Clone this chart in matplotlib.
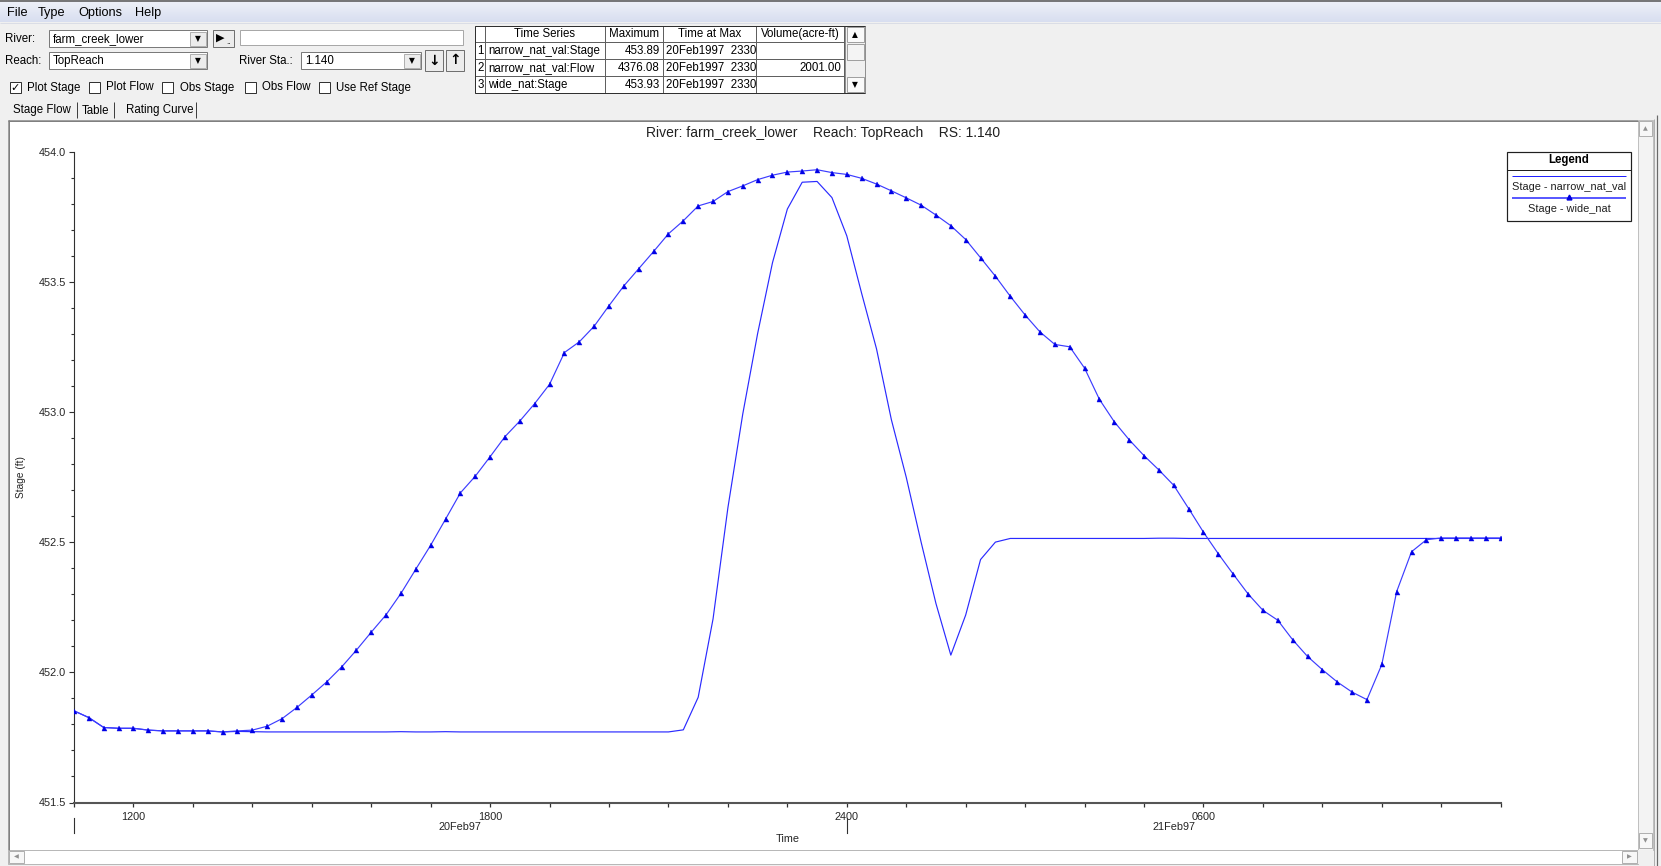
import matplotlib
matplotlib.use('Agg')
import matplotlib.pyplot as plt
import numpy as np
from matplotlib.patches import Rectangle
import matplotlib.transforms as mtransforms
from matplotlib.ticker import FixedLocator, MultipleLocator, FormatStrFormatter

plt.rcParams['font.family'] = ['Liberation Sans', 'DejaVu Sans']

W, H = 1661, 866

# ---------------- data (15-minute stages, 20Feb97 1100 -> 21Feb97 1100) ----------------
start_hour = 11.0
step_hours = 0.25

wide_nat = [
    451.852, 451.826, 451.788, 451.785,   # 11
    451.785, 451.778, 451.775, 451.775,   # 12
    451.775, 451.775, 451.771, 451.775,   # 13
    451.778, 451.793, 451.822, 451.865,   # 14
    451.913, 451.963, 452.020, 452.085,   # 15
    452.154, 452.221, 452.303, 452.396,   # 16
    452.488, 452.588, 452.689, 452.753,   # 17
    452.828, 452.905, 452.965, 453.032,   # 18
    453.106, 453.228, 453.269, 453.329,   # 19
    453.408, 453.484, 453.550, 453.616,   # 20
    453.684, 453.734, 453.791, 453.808,   # 21
    453.846, 453.868, 453.892, 453.909,   # 22
    453.921, 453.925, 453.930, 453.919,   # 23
    453.912, 453.897, 453.875, 453.849,   # 00
    453.822, 453.794, 453.756, 453.715,   # 01
    453.662, 453.592, 453.521, 453.444,   # 02
    453.372, 453.307, 453.259, 453.250,   # 03
    453.168, 453.048, 452.962, 452.893,   # 04
    452.832, 452.777, 452.718, 452.629,   # 05
    452.538, 452.455, 452.377, 452.301,   # 06
    452.238, 452.200, 452.125, 452.061,   # 07
    452.010, 451.963, 451.924, 451.895,   # 08
    452.030, 452.310, 452.463, 452.509,   # 09
    452.516, 452.516, 452.516, 452.516,   # 10
    452.516,                              # 11
]

narrow_nat_val = [
    451.852, 451.826, 451.788, 451.785,   # 11
    451.785, 451.778, 451.775, 451.775,   # 12
    451.775, 451.775, 451.771, 451.773,   # 13
    451.772, 451.771, 451.771, 451.771,   # 14
    451.771, 451.771, 451.771, 451.771,   # 15
    451.771, 451.771, 451.772, 451.771,   # 16
    451.771, 451.772, 451.771, 451.771,   # 17
    451.771, 451.771, 451.771, 451.771,   # 18
    451.771, 451.771, 451.771, 451.771,   # 19
    451.771, 451.771, 451.771, 451.771,   # 20
    451.771, 451.779, 451.904, 452.205,   # 21
    452.632, 452.992, 453.301, 453.573,   # 22
    453.779, 453.882, 453.885, 453.823,   # 23
    453.676, 453.455, 453.242, 452.970,   # 00
    452.749, 452.500, 452.264, 452.066,   # 01
    452.220, 452.433, 452.500, 452.514,   # 02
    452.514, 452.514, 452.514, 452.514,   # 03
    452.514, 452.514, 452.514, 452.514,   # 04
    452.514, 452.515, 452.515, 452.514,   # 05
    452.514, 452.514, 452.514, 452.514,   # 06
    452.514, 452.514, 452.514, 452.514,   # 07
    452.514, 452.514, 452.514, 452.514,   # 08
    452.514, 452.514, 452.514, 452.514,   # 09
    452.514, 452.514, 452.514, 452.514,   # 10
    452.514,                              # 11
]

x_limits = [11, 35]
y_limits = [451.5, 454.0]
major_tick_hours = [12, 18, 24, 30]
major_tick_labels = ['1200', '1800', '2400', '0600']
day_labels = ['20Feb97', '21Feb97']
day_label_hours = [17.5, 29.5]
day_boundary_hours = [11, 24]

series_names = ['Stage - narrow_nat_val', 'Stage - wide_nat']
chart_title = 'River: farm_creek_lower    Reach: TopReach    RS: 1.140'

table_header = ['Time Series', 'Maximum', 'Time at Max', 'Volume(acre-ft)']
table_series = ['narrow_nat_val:Stage', 'narrow_nat_val:Flow', 'wide_nat:Stage']
table_max = ['453.89', '4376.08', '453.93']
table_time = ['20Feb1997  2330', '20Feb1997  2330', '20Feb1997  2330']
table_volume = ['', '2001.00', '']

menu_items = ['File', 'Type', 'Options', 'Help']
check_labels = ['Plot Stage', 'Plot Flow', 'Obs Stage', 'Obs Flow', 'Use Ref Stage']
check_states = [True, False, False, False, False]
tab_labels = ['Stage Flow', 'Table', 'Rating Curve']

hours = start_hour + step_hours * np.arange(len(wide_nat))

# ---------------- figure & UI layer (pixel coordinates) ----------------
fig = plt.figure(figsize=(W / 100, H / 100), dpi=100, facecolor='#f0f0f0')
ui = fig.add_axes([0, 0, 1, 1], zorder=0)
ui.set_xlim(0, W)
ui.set_ylim(H, 0)
ui.axis('off')

PX = 0.72  # one pixel in points


def rect(x0, y0, x1, y1, fc, ec='none', lw=1.0, z=1):
    ui.add_patch(Rectangle((x0, y0), x1 - x0, y1 - y0, facecolor=fc,
                           edgecolor=ec, linewidth=lw * PX, zorder=z))


def line(xs, ys, color='#808080', lw=1.0, z=2):
    ui.plot(xs, ys, color=color, linewidth=lw * PX, zorder=z, solid_capstyle='butt')


def txt(x, y, s, size=8.3, ha='left', va='center', color='black', z=3, **kw):
    ui.text(x, y, s, fontsize=size, ha=ha, va=va, color=color, zorder=z, **kw)


# menu bar gradient
grad = np.linspace(0, 1, 50).reshape(-1, 1)
ui.imshow(grad, extent=[0, W, 22, 1], cmap=matplotlib.colors.LinearSegmentedColormap.from_list(
    'mb', ['#eef1f8', '#d8def0']), aspect='auto', zorder=0.5)
ui.set_xlim(0, W)
ui.set_ylim(H, 0)
line([0, W], [0.6, 0.6], color='#505050', lw=1.5)
line([0, W], [22.5, 22.5], color='#dadde6', lw=1)
menu_x = [7, 38, 78, 135]
for mx, item in zip(menu_x, menu_items):
    txt(mx, 13, item, size=9.2)

# River / Reach combos
txt(5, 39, 'River:', size=8.3)
txt(5, 61, 'Reach:', size=8.3)


def combo(x0, y0, x1, y1, value):
    rect(x0, y0, x1, y1, 'white', ec='#7a7a7a', lw=1)
    rect(x1 - 17, y0 + 1.5, x1 - 1.5, y1 - 1.5, '#ececec', ec='#b0b0b0', lw=1, z=1.5)
    txt(x1 - 9.3, (y0 + y1) / 2 + 0.5, '\u25bc', size=5.5, ha='center',
        family=['DejaVu Sans'])
    txt(x0 + 4, (y0 + y1) / 2 + 0.5, value, size=8.3)


combo(49, 30, 207, 47, 'farm_creek_lower')
combo(49, 52, 207, 69, 'TopReach')
combo(301, 52, 421, 69, '1.140')
txt(239, 61, 'River Sta.:', size=8.3)

# play button + text field
rect(213, 30, 234, 47, '#ececec', ec='#707070', lw=1)
txt(220, 38, '\u25b6', size=8, ha='center', family=['DejaVu Sans'])
txt(229, 42, '..', size=6, ha='center')
rect(240, 30, 463, 45, 'white', ec='#a8a8a8', lw=1)

# arrow buttons
for bx, arrow in zip([425, 446], ['\u2193', '\u2191']):
    rect(bx, 50, bx + 18, 71, '#ececec', ec='#707070', lw=1)
    txt(bx + 9, 60.5, arrow, size=10, ha='center', weight='bold',
        family=['DejaVu Sans'])

# checkboxes
box_x = [9.5, 89, 162, 245, 319]
for bx, lab, st in zip(box_x, check_labels, check_states):
    rect(bx, 81.5, bx + 11, 92.5, 'white', ec='#333333', lw=1)
    if st:
        txt(bx + 5.5, 87.5, '\u2713', size=8, ha='center', weight='bold',
            family=['DejaVu Sans'])
    txt(bx + 17.5, 87.5, lab, size=8.3)

# tabs
tab_x = [13, 82, 126]
sep_x = [77, 114, 196]
for tx, lab in zip(tab_x, tab_labels):
    txt(tx, 110.5, lab, size=8.3)
for sx in sep_x:
    line([sx, sx], [102, 118], color='#404040', lw=1)

# results table
col_x = [474.5, 485, 605, 663, 756, 844]
row_y = [25.5, 42, 59, 76, 93]
rect(474.5, 25.5, 844, 93, 'white', ec='none')
for cx in col_x:
    line([cx, cx], [row_y[0], row_y[-1]], color='#606060', lw=1)
for ry in row_y:
    line([col_x[0], col_x[-1]], [ry, ry], color='#606060', lw=1)
header_centers = [(col_x[i + 1] + col_x[i + 2]) / 2 for i in range(4)]
for hc, h in zip(header_centers, table_header):
    txt(hc, 34, h, size=8.3, ha='center')
for i in range(3):
    yc = (row_y[i + 1] + row_y[i + 2]) / 2 + 0.5
    txt(477.5, yc, str(i + 1), size=8.3)
    txt(488, yc, table_series[i], size=8.3)
    txt(660, yc, table_max[i], size=8.3, ha='right')
    txt(666, yc, table_time[i], size=8.3)
    txt(841, yc, table_volume[i], size=8.3, ha='right')
# table scrollbar
rect(845, 25.5, 865, 93, '#f0f0f0', ec='#909090', lw=1)
rect(846.5, 27, 863.5, 42, '#fafafa', ec='#a0a0a0', lw=1, z=1.5)
txt(855, 34.5, '\u25b2', size=5.5, ha='center', family=['DejaVu Sans'])
rect(846.5, 43.5, 863.5, 60, '#f4f4f4', ec='#a0a0a0', lw=1, z=1.5)
rect(846.5, 76.5, 863.5, 92, '#fafafa', ec='#a0a0a0', lw=1, z=1.5)
txt(855, 84.5, '\u25bc', size=5.5, ha='center', family=['DejaVu Sans'])
line([474.5, 865], [25.5, 25.5], color='#303030', lw=1)
line([474.5, 865], [93, 93], color='#303030', lw=1)
line([474.5, 474.5], [25.5, 93], color='#303030', lw=1)

# chart panel and scrollbars
rect(8, 119.5, 1638, 850, 'white', ec='#a0a0a0', lw=1)
line([8, 1638], [120.5, 120.5], color='#808080', lw=1)
line([8.5, 8.5], [120, 850], color='#808080', lw=1)
rect(1638, 119.5, 1653, 850, '#f3f3f3', ec='#c0c0c0', lw=1)
rect(1639, 121, 1652, 136, '#f7f7f7', ec='#b0b0b0', lw=1, z=1.5)
txt(1645.5, 128.5, '\u25b2', size=4.5, ha='center', color='#909090', family=['DejaVu Sans'])
rect(1639, 833, 1652, 848, '#f7f7f7', ec='#b0b0b0', lw=1, z=1.5)
txt(1645.5, 840.5, '\u25bc', size=4.5, ha='center', color='#909090', family=['DejaVu Sans'])
rect(8, 850, 1638, 864, 'white', ec='#b8b8b8', lw=1)
rect(9, 851, 24, 863, '#f7f7f7', ec='#b0b0b0', lw=1, z=1.5)
txt(16.5, 857, '\u25c0', size=4.5, ha='center', color='#909090', family=['DejaVu Sans'])
rect(1622, 851, 1637, 863, '#f7f7f7', ec='#b0b0b0', lw=1, z=1.5)
txt(1629.5, 857, '\u25b6', size=4.5, ha='center', color='#909090', family=['DejaVu Sans'])
rect(1638, 850, 1653, 864, '#f0f0f0', ec='none')
line([1657, 1657], [115, 866], color='#6a6a6a', lw=1.2)
line([1653.5, 1653.5], [119, 866], color='#b0b0b0', lw=1)

# chart title
txt(823, 132.5, chart_title, size=10, ha='center', color='#202020')

# legend (custom HEC-RAS style box)
lx0, lx1, ly0, ly1 = 1507, 1631, 151.5, 220.5
lxc = (lx0 + lx1) / 2
rect(lx0, ly0, lx1, ly1, 'white', ec='#202020', lw=1.2, z=5)
txt(lxc, 159.5, 'Legend', size=8.3, ha='center', weight='bold', z=6)
line([lx0, lx1], [169.5, 169.5], color='#202020', lw=1, z=6)
line([1512, 1626], [175.5, 175.5], color='#2020ff', lw=1, z=6)
txt(lxc, 186.5, series_names[0], size=7.9, ha='center', color='#202020', z=6)
line([1512, 1626], [197.5, 197.5], color='#5a5aff', lw=2, z=6)
ui.plot([lxc], [196.5], marker='^', ms=3.5, color='#0000dd', zorder=7)
txt(lxc, 209, series_names[1], size=7.9, ha='center', color='#202020', z=6)

# ---------------- chart axes ----------------
ax_left, ax_right, ax_top, ax_bottom = 74, 1500.7, 151.5, 802.5
ax = fig.add_axes([ax_left / W, 1 - ax_bottom / H, (ax_right - ax_left) / W,
                   (ax_bottom - ax_top) / H], zorder=2)
ax.set_facecolor('none')
ax.plot(hours, narrow_nat_val, color='#2a2aff', lw=0.85, zorder=3)
ax.plot(hours, wide_nat, color='#3c3cff', lw=0.85, marker='^', ms=3.6,
        mfc='#0000e6', mec='#0000e6', mew=0.3, zorder=4)
ax.set_xlim(*x_limits)
ax.set_ylim(*y_limits)

for s in ['top', 'right']:
    ax.spines[s].set_visible(False)
ax.spines['left'].set_color('#303030')
ax.spines['left'].set_linewidth(0.8)
ax.spines['bottom'].set_color('#555555')
ax.spines['bottom'].set_linewidth(1.5)

ax.yaxis.set_major_locator(MultipleLocator(0.5))
ax.yaxis.set_minor_locator(MultipleLocator(0.1))
ax.yaxis.set_major_formatter(FormatStrFormatter('%.1f'))
ax.xaxis.set_major_locator(FixedLocator(major_tick_hours))
ax.set_xticklabels(major_tick_labels)
ax.xaxis.set_minor_locator(MultipleLocator(1))

ax.tick_params(axis='y', which='major', direction='out', length=5 * PX, width=0.8,
               color='#303030', labelsize=7.8, labelcolor='#252525', pad=2.0)
ax.tick_params(axis='y', which='minor', direction='out', length=3 * PX, width=0.8,
               color='#303030')
ax.tick_params(axis='x', which='both', direction='out', length=4 * PX, width=0.9,
               color='#303030', labelsize=7.8, labelcolor='#252525', pad=3.6)

ax.set_ylabel('Stage (ft)', fontsize=7.3, color='#252525')
ax.yaxis.set_label_coords((26 - ax_left) / (ax_right - ax_left), 0.5)
ax.set_xlabel('Time', fontsize=7.8, color='#252525')
ax.xaxis.set_label_coords(0.5, (ax_bottom - 833.5) / (ax_bottom - ax_top))

trans = mtransforms.blended_transform_factory(ax.transData, ax.transAxes)
ph = ax_bottom - ax_top
for dh, dl in zip(day_label_hours, day_labels):
    ax.text(dh, (ax_bottom - 826.5) / ph, dl, transform=trans, fontsize=7.8,
            color='#252525', ha='center', va='center')
for bh in day_boundary_hours:
    ax.plot([bh, bh], [(ax_bottom - 818) / ph, (ax_bottom - 833) / ph],
            transform=trans, color='#303030', lw=0.8, clip_on=False)

fig.savefig('out.png', dpi=100, facecolor=fig.get_facecolor())
